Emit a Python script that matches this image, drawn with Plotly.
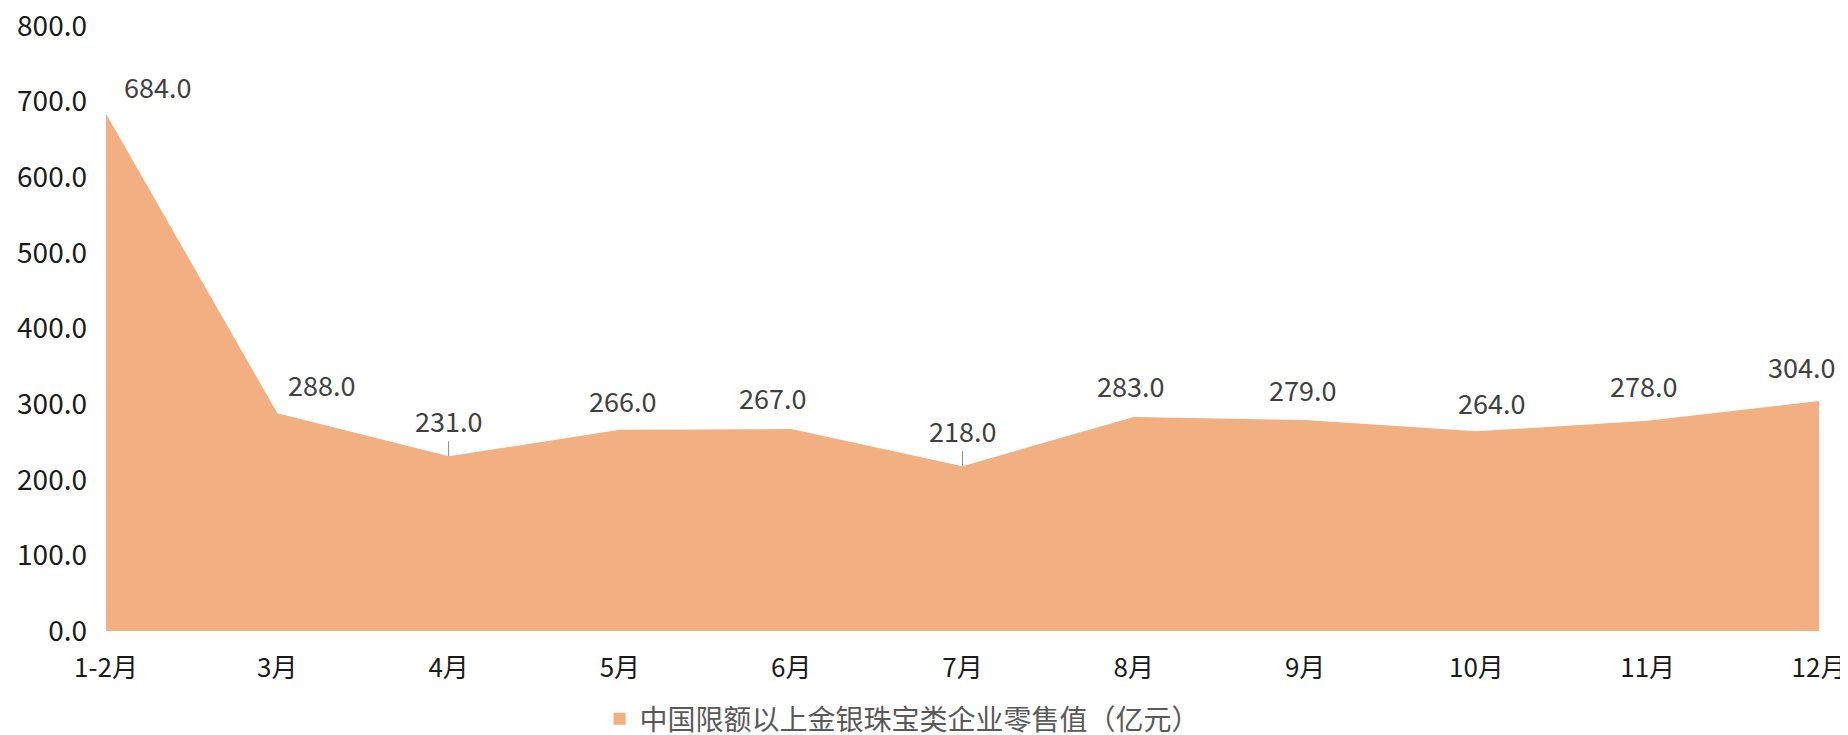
import plotly.graph_objects as go

categories = ["1-2月", "3月", "4月", "5月", "6月", "7月", "8月", "9月", "10月", "11月", "12月"]
values = [684.0, 288.0, 231.0, 266.0, 267.0, 218.0, 283.0, 279.0, 264.0, 278.0, 304.0]
series_name = "中国限额以上金银珠宝类企业零售值（亿元）"
y_ticks = [0, 100, 200, 300, 400, 500, 600, 700, 800]

# label offsets (pixels) and leader-line flags: styling only
label_dx = [51, 44, 0, 3, -19, 0, -3, -3, 15, -4, -18]
label_dy = [-27, -29, -36, -29, -32, -36, -31, -31, -29, -35, -35]
leader = [False, False, True, False, False, True, False, False, False, False, False]

FONT = "Noto Sans CJK SC, Microsoft YaHei, sans-serif"
AREA = "#F2AF82"

xs = list(range(len(categories)))

fig = go.Figure()
fig.add_trace(go.Scatter(
    x=xs, y=values, mode="none", fill="tozeroy", fillcolor=AREA,
    showlegend=False, hoverinfo="skip",
))
fig.add_trace(go.Scatter(
    x=[None], y=[None], mode="markers", name=series_name,
    marker=dict(symbol="square", size=17, color=AREA),
))

for i, v in enumerate(values):
    fig.add_annotation(
        x=xs[i], y=v, text=f"{v:.1f}",
        showarrow=True, ax=label_dx[i], ay=label_dy[i],
        arrowhead=0, arrowwidth=1, standoff=0, startstandoff=0,
        arrowcolor="#8c8c8c" if leader[i] else "rgba(0,0,0,0)",
        font=dict(family=FONT, size=27, color="#404040"),
    )

fig.update_layout(
    width=1840, height=727,
    margin=dict(l=98, r=29, t=18, b=104, autoexpand=False),
    paper_bgcolor="white", plot_bgcolor="white",
    font=dict(family=FONT),
    xaxis=dict(
        range=[0, len(categories) - 1], tickmode="array", tickvals=xs, ticktext=categories,
        showgrid=False, zeroline=False, showline=False, ticks="",
        tickfont=dict(family=FONT, size=26, color="#1a1a1a"),
        ticklabelstandoff=19, automargin=False, ticklabeloverflow="allow",
    ),
    yaxis=dict(
        range=[0, 800], tickmode="array", tickvals=y_ticks,
        ticktext=[f"{t:.1f}" for t in y_ticks],
        showgrid=False, zeroline=False, showline=False, ticks="",
        tickfont=dict(family=FONT, size=28, color="#1a1a1a"),
        ticklabelstandoff=18, automargin=False, ticklabeloverflow="allow",
    ),
    legend=dict(
        orientation="h", xref="container", yref="container",
        x=0.3215, xanchor="left", y=0.022, yanchor="middle",
        font=dict(family=FONT, size=28, color="#595959"),
        itemsizing="constant",
    ),
    showlegend=True,
)

fig.write_html("out.html")
